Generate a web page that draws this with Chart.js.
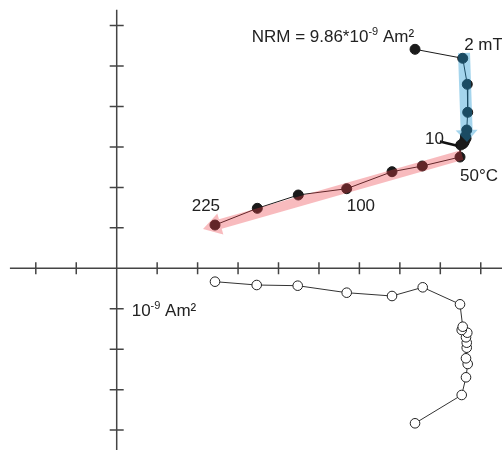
<!DOCTYPE html>
<html>
<head>
<meta charset="utf-8">
<script src="https://cdn.jsdelivr.net/npm/chart.js@4.4.1/dist/chart.umd.min.js"></script>
<style>
  html, body { margin: 0; padding: 0; background: #fff; }
  #wrap { width: 502px; height: 454px; }
</style>
</head>
<body>
<div id="wrap"><canvas id="zij" width="502" height="454"></canvas></div>
<script>
// Zijderveld plot: filled = vertical projection, open = horizontal projection
// units: 1e-9 Am2 per tick

// ---- data ----
const FILLED_X = [7.375, 8.554, 8.667, 8.677, 8.653, 8.636, 8.62, 8.61, 8.59, 8.56, 8.504,
                  8.487, 7.555, 6.806, 5.686, 4.489, 3.476, 2.430];
const FILLED_Y = [5.414, 5.192, 4.549, 3.857, 3.419, 3.214, 3.27, 3.18, 3.12, 3.08, 3.048,
                  2.751, 2.529, 2.388, 1.968, 1.812, 1.483, 1.070];
const OPEN_X = [7.375, 8.529, 8.635, 8.677, 8.635, 8.653, 8.653, 8.635, 8.667, 8.529, 8.554,
                8.487, 7.565, 6.806, 5.686, 4.475, 3.461, 2.430];
const OPEN_Y = [-3.832, -3.132, -2.695, -2.366, -2.225, -1.963, -1.839, -1.706, -1.592, -1.525, -1.444,
                -0.890, -0.470, -0.685, -0.603, -0.430, -0.413, -0.331];

// fitted directions (start, end) for AF and thermal steps
const AF_FIT = [[8.586, 5.323], [8.660, 3.122]];
const TH_FIT = [[8.537, 2.801], [2.134, 0.972]];

// axes
const X_TICKS = [-2, -1, 1, 2, 3, 4, 5, 6, 7, 8, 9];
const Y_TICKS = [-4, -3, -2, -1, 1, 2, 3, 4, 5, 6];
const X_AXIS = [-2.64, 9.6];
const Y_AXIS = [-4.49, 6.39];

// labels: parts are [string, isSup]
const LABELS = [
  { parts: [["NRM = 9.86*10", 0], ["-9", 1], [" Am²", 0]], x: 3.337, y: 5.602 },
  { parts: [["2 mT", 0]], x: 8.59, y: 5.397 },
  { parts: [["10", 0]], x: 7.622, y: 3.073 },
  { parts: [["50°C", 0]], x: 8.487, y: 2.166 },
  { parts: [["100", 0]], x: 5.686, y: 1.424 },
  { parts: [["225", 0]], x: 1.854, y: 1.424 },
  { parts: [["10", 0], ["-9", 1], [" Am²", 0]], x: 0.371, y: -1.179 }
];
const LEADER_10 = [[7.99, 3.135], [8.42, 3.03]];

const FONT = '"Liberation Sans", Arial, sans-serif';
const INK = "#222";
const AF_COLOR = "rgba(30, 150, 210, 0.4)";
const TH_COLOR = "rgba(235, 60, 70, 0.35)";

// ---- helpers ----
function px(chart, x, y) {
  return [chart.scales.x.getPixelForValue(x), chart.scales.y.getPixelForValue(y)];
}

function drawArrow(ctx, a, b, w, hw, hl, color) {
  const dx = b[0] - a[0], dy = b[1] - a[1];
  const len = Math.hypot(dx, dy);
  const ux = dx / len, uy = dy / len;
  const nx = -uy, ny = ux;
  const bx = b[0] - ux * hl, by = b[1] - uy * hl;
  ctx.beginPath();
  ctx.moveTo(a[0] + nx * w / 2, a[1] + ny * w / 2);
  ctx.lineTo(bx + nx * w / 2, by + ny * w / 2);
  ctx.lineTo(bx + nx * hw / 2, by + ny * hw / 2);
  ctx.lineTo(b[0], b[1]);
  ctx.lineTo(bx - nx * hw / 2, by - ny * hw / 2);
  ctx.lineTo(bx - nx * w / 2, by - ny * w / 2);
  ctx.lineTo(a[0] - nx * w / 2, a[1] - ny * w / 2);
  ctx.closePath();
  ctx.fillStyle = color;
  ctx.fill();
}

function drawParts(ctx, parts, x, y) {
  let cx = x;
  for (const [s, sup] of parts) {
    ctx.font = sup ? `11px ${FONT}` : `17px ${FONT}`;
    ctx.fillText(s, cx, sup ? y - 7 : y);
    cx += ctx.measureText(s).width;
  }
}

const axesPlugin = {
  id: "zijAxes",
  beforeDatasetsDraw(chart) {
    const ctx = chart.ctx;
    ctx.save();
    ctx.strokeStyle = "#444";
    ctx.lineWidth = 1.5;
    const [x0, yz] = px(chart, X_AXIS[0], 0);
    const [x1] = px(chart, X_AXIS[1], 0);
    const [xz, y0] = px(chart, 0, Y_AXIS[0]);
    const [, y1] = px(chart, 0, Y_AXIS[1]);
    ctx.beginPath();
    ctx.moveTo(x0, yz); ctx.lineTo(x1, yz);
    ctx.moveTo(xz, y0); ctx.lineTo(xz, y1);
    for (const t of X_TICKS) {
      const p = chart.scales.x.getPixelForValue(t);
      ctx.moveTo(p, yz - 6); ctx.lineTo(p, yz + 6);
    }
    for (const t of Y_TICKS) {
      const p = chart.scales.y.getPixelForValue(t);
      ctx.moveTo(xz - 7, p); ctx.lineTo(xz + 7, p);
    }
    ctx.stroke();
    ctx.restore();
  },
  afterDatasetsDraw(chart) {
    const ctx = chart.ctx;
    ctx.save();
    drawArrow(ctx, px(chart, ...AF_FIT[0]), px(chart, ...AF_FIT[1]), 12, 22, 12, AF_COLOR);
    drawArrow(ctx, px(chart, ...TH_FIT[0]), px(chart, ...TH_FIT[1]), 10, 22, 18, TH_COLOR);

    ctx.strokeStyle = "#111";
    ctx.lineWidth = 2.5;
    ctx.beginPath();
    ctx.moveTo(...px(chart, ...LEADER_10[0]));
    ctx.lineTo(...px(chart, ...LEADER_10[1]));
    ctx.stroke();

    ctx.fillStyle = INK;
    ctx.textBaseline = "alphabetic";
    ctx.textAlign = "left";
    for (const l of LABELS) {
      const [lx, ly] = px(chart, l.x, l.y);
      drawParts(ctx, l.parts, lx, ly);
    }
    ctx.restore();
  }
};

// ---- chart ----
const toPts = (xs, ys) => xs.map((x, i) => ({ x, y: ys[i] }));

new Chart(document.getElementById("zij"), {
  type: "scatter",
  data: {
    datasets: [
      {
        label: "vertical",
        data: toPts(FILLED_X, FILLED_Y),
        showLine: true,
        borderColor: "#1a1a1a",
        borderWidth: 1,
        pointRadius: 5,
        pointBackgroundColor: "#1a1a1a",
        pointBorderColor: "#1a1a1a",
        pointBorderWidth: 1
      },
      {
        label: "horizontal",
        data: toPts(OPEN_X, OPEN_Y),
        showLine: true,
        borderColor: "#333",
        borderWidth: 1,
        pointRadius: 4.8,
        pointBackgroundColor: "#fff",
        pointBorderColor: "#222",
        pointBorderWidth: 1
      }
    ]
  },
  options: {
    responsive: false,
    animation: false,
    layout: { padding: 0, autoPadding: false },
    plugins: { legend: { display: false }, tooltip: { enabled: false } },
    scales: {
      x: { type: "linear", min: -2.885, max: 9.525, display: false },
      y: { type: "linear", min: -4.591, max: 6.633, display: false }
    }
  },
  plugins: [axesPlugin]
});
</script>
</body>
</html>
